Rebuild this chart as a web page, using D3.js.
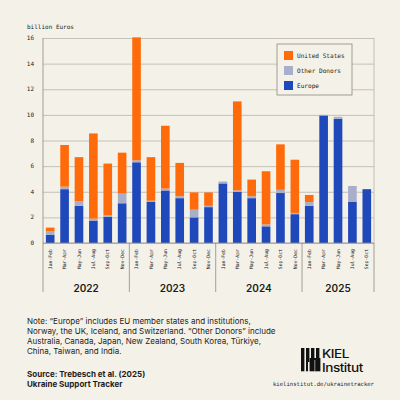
<!DOCTYPE html>
<html>
<head>
<meta charset="utf-8">
<script src="https://cdn.jsdelivr.net/npm/d3@7"></script>
<style>
  html, body { margin: 0; padding: 0; background: #f4f1e8; }
  svg { display: block; }
</style>
</head>
<body>
<div id="chart"></div>
<script>
/* ── Data (billion euros, bimonthly) ───────────────────────────────────── */
const years   = ['2022', '2023', '2024', '2025'];
const periods = ['Jan-Feb', 'Mar-Apr', 'May-Jun', 'Jul-Aug', 'Sep-Oct', 'Nov-Dec'];
const periodsPerYear = [6, 6, 6, 5];

const europe = [0.65, 4.2, 2.9, 1.75, 2.05, 3.1,
                6.3, 3.2, 4.1, 3.5, 2.0, 2.8,
                4.65, 4.0, 3.5, 1.3, 3.9, 2.25,
                2.9, 9.95, 9.7, 3.2, 4.2];
const other  = [0.25, 0.2, 0.35, 0.15, 0.1, 0.75,
                0.15, 0.1, 0.15, 0.15, 0.6, 0.1,
                0.15, 0.1, 0.15, 0.15, 0.25, 0.1,
                0.3, 0.05, 0.15, 1.25, 0.0];
const us     = [0.3, 3.25, 3.45, 6.65, 4.05, 3.2,
                9.6, 3.4, 4.9, 2.6, 1.35, 1.05,
                0.0, 6.95, 1.3, 4.15, 3.55, 4.15,
                0.55, 0.0, 0.0, 0.0, 0.0];
const yTicks = [0, 2, 4, 6, 8, 10, 12, 14, 16];

const seriesKeys   = ['europe', 'other', 'us'];
const seriesLabels = { us: 'United States', other: 'Other Donors', europe: 'Europe' };
const COLORS = { europe: '#1f48ba', other: '#a9afca', us: '#ff6b0b' };

/* ── Build rows ────────────────────────────────────────────────────────── */
const rows = [];
years.forEach((yr, yi) => {
  for (let p = 0; p < periodsPerYear[yi]; p++) {
    const i = rows.length;
    rows.push({ key: `${yr}-${p}`, year: yr, label: periods[p],
                europe: europe[i], other: other[i], us: us[i] });
  }
});

/* ── Layout ────────────────────────────────────────────────────────────── */
const W = 400, H = 400;
const BG   = '#f4f1e8';
const plot = { left: 43, right: 374, top: 38, bottom: 243 };
const MONO = '"DejaVu Sans Mono", "Liberation Mono", monospace';
const SANS = 'Inter, "Noto Sans", sans-serif';
const INK  = '#1d1d1b';
const GRID = '#b9b5ab';

const svg = d3.select('#chart').append('svg')
  .attr('width', W).attr('height', H);

svg.append('rect').attr('width', W).attr('height', H).attr('fill', BG);

const x = d3.scaleBand()
  .domain(rows.map(r => r.key))
  .range([plot.left, plot.right])
  .paddingInner(0.4)
  .paddingOuter(0.2);

const y = d3.scaleLinear()
  .domain([0, 16])
  .range([plot.bottom, plot.top]);

// Gridlines
svg.append('g')
  .attr('transform', `translate(${plot.left},0)`)
  .call(d3.axisLeft(y).tickValues(yTicks).tickSize(-(plot.right - plot.left)).tickFormat(''))
  .call(g => g.select('.domain').remove())
  .selectAll('line')
    .attr('stroke', GRID)
    .attr('stroke-width', 0.8);

// Frame right side + left axis
svg.append('line')
  .attr('x1', plot.right).attr('x2', plot.right)
  .attr('y1', plot.top).attr('y2', plot.bottom)
  .attr('stroke', GRID).attr('stroke-width', 0.8);
svg.append('line')
  .attr('x1', plot.left).attr('x2', plot.left)
  .attr('y1', plot.top).attr('y2', plot.bottom)
  .attr('stroke', '#8f8b82').attr('stroke-width', 0.8);

// Y tick labels
svg.append('g')
  .selectAll('text')
  .data(yTicks)
  .join('text')
    .attr('x', 34)
    .attr('y', d => y(d))
    .attr('dy', '0.35em')
    .attr('text-anchor', 'end')
    .style('font-family', MONO)
    .style('font-size', '6px')
    .style('fill', INK)
    .text(d => d);

svg.append('text')
  .attr('x', 27).attr('y', 29)
  .style('font-family', MONO)
  .style('font-size', '6px')
  .style('fill', INK)
  .text('billion Euros');

// Stacked bars
const stack = d3.stack().keys(seriesKeys)(rows);
svg.append('g')
  .selectAll('g')
  .data(stack)
  .join('g')
    .attr('fill', s => COLORS[s.key])
  .selectAll('rect')
  .data(s => s)
  .join('rect')
    .attr('x', d => x(d.data.key))
    .attr('y', d => y(d[1]))
    .attr('width', x.bandwidth())
    .attr('height', d => Math.max(0, y(d[0]) - y(d[1])));

// X axis line
svg.append('line')
  .attr('x1', plot.left).attr('x2', plot.right)
  .attr('y1', plot.bottom).attr('y2', plot.bottom)
  .attr('stroke', '#8f8b82').attr('stroke-width', 0.8);

// Period labels (rotated)
svg.append('g')
  .selectAll('text')
  .data(rows)
  .join('text')
    .attr('transform', r => `translate(${x(r.key) + x.bandwidth() / 2},249) rotate(-90)`)
    .attr('dy', '0.35em')
    .attr('text-anchor', 'end')
    .style('font-family', MONO)
    .style('font-size', '4.8px')
    .style('fill', INK)
    .text(r => r.label);

// Year separators and labels
const step = x.step();
const sepX = [plot.left];
let idx = 0;
years.forEach((yr, yi) => {
  idx += periodsPerYear[yi];
  if (yi < years.length - 1) {
    sepX.push(x(rows[idx - 1].key) + x.bandwidth() + step * 0.2);
  }
});
sepX.push(plot.right);

svg.append('g')
  .selectAll('line')
  .data(sepX)
  .join('line')
    .attr('x1', d => d).attr('x2', d => d)
    .attr('y1', plot.bottom).attr('y2', 292)
    .attr('stroke', '#8f8b82').attr('stroke-width', 0.8);

svg.append('g')
  .selectAll('text')
  .data(years)
  .join('text')
    .attr('x', (d, i) => (sepX[i] + sepX[i + 1]) / 2)
    .attr('y', 292)
    .attr('text-anchor', 'middle')
    .style('font-family', SANS)
    .style('font-size', '10px')
    .style('font-weight', 600)
    .style('fill', INK)
    .text(d => d);

// Legend
const lg = svg.append('g').attr('transform', 'translate(277,44)');
lg.append('rect')
  .attr('width', 75).attr('height', 51)
  .attr('fill', BG)
  .attr('stroke', '#8f8b82').attr('stroke-width', 0.8);
['us', 'other', 'europe'].forEach((k, i) => {
  const row = lg.append('g').attr('transform', `translate(7,${7 + i * 15})`);
  row.append('rect').attr('width', 9).attr('height', 9).attr('fill', COLORS[k]);
  row.append('text')
    .attr('x', 13).attr('y', 4.5).attr('dy', '0.35em')
    .style('font-family', MONO)
    .style('font-size', '6.1px')
    .style('fill', INK)
    .text(seriesLabels[k]);
});

// Notes
const noteLines = [
  'Note: “Europe” includes EU member states and institutions,',
  'Norway, the UK, Iceland, and Switzerland. “Other Donors” include',
  'Australia, Canada, Japan, New Zealand, South Korea, Türkiye,',
  'China, Taiwan, and India.'
];
svg.append('g')
  .selectAll('text')
  .data(noteLines)
  .join('text')
    .attr('x', 27)
    .attr('y', (d, i) => 324 + i * 10)
    .style('font-family', SANS)
    .style('font-size', '8px')
    .style('fill', INK)
    .text(d => d);

['Source: Trebesch et al. (2025)', 'Ukraine Support Tracker'].forEach((t, i) => {
  svg.append('text')
    .attr('x', 27).attr('y', 377 + i * 10)
    .style('font-family', SANS)
    .style('font-size', '8px')
    .style('font-weight', 700)
    .style('fill', INK)
    .text(t);
});

// Logo
const logo = svg.append('g').attr('transform', 'translate(301,348)').attr('fill', '#111');
[[0, 0, 3.4, 23.3], [5, 0, 3.4, 14], [10, 0, 3.4, 14], [15, 0, 3.4, 14],
 [5, 12, 2, 11.3], [8.6, 10, 10.8, 13.3]].forEach(r => {
  logo.append('rect').attr('x', r[0]).attr('y', r[1]).attr('width', r[2]).attr('height', r[3]);
});
logo.append('rect').attr('x', 13.6).attr('y', 12).attr('width', 0.6).attr('height', 11.3).attr('fill', BG);
const logoText = logo.append('g').attr('transform', 'translate(21,0) scale(1.18,1)');
logoText.append('text').attr('x', 0).attr('y', 10)
  .style('font-family', SANS).style('font-size', '11.5px').style('font-weight', 500)
  .style('letter-spacing', '-0.4px')
  .text('KIEL');
logoText.append('text').attr('x', 0).attr('y', 24)
  .style('font-family', SANS).style('font-size', '11.5px').style('font-weight', 500)
  .style('letter-spacing', '-0.4px')
  .text('Institut');

svg.append('text')
  .attr('x', 374).attr('y', 386)
  .attr('text-anchor', 'end')
  .style('font-family', MONO)
  .style('font-size', '5.6px')
  .style('fill', INK)
  .text('kielinstitut.de/ukrainetracker');
</script>
</body>
</html>
